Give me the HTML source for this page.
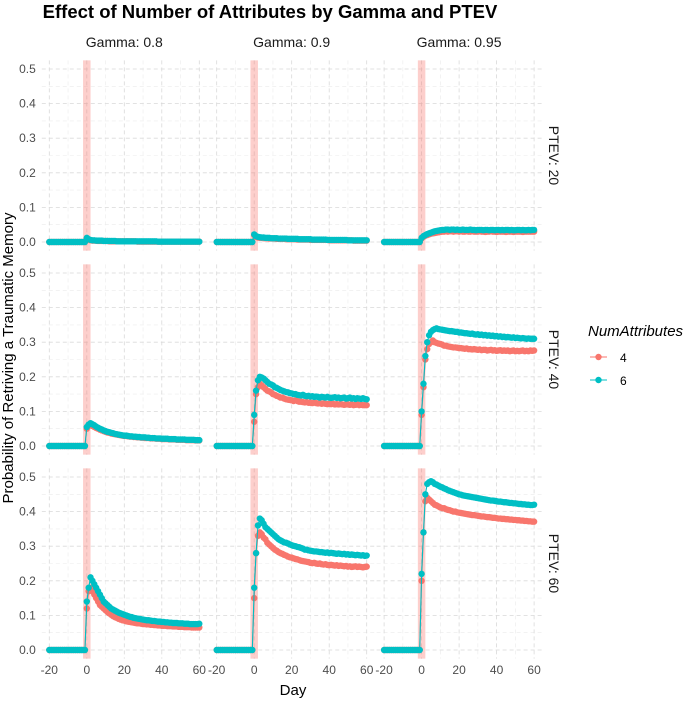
<!DOCTYPE html>
<html><head><meta charset="utf-8"><style>
body{margin:0;background:#fff;}
svg text{font-family:"Liberation Sans",sans-serif;}
</style></head><body>
<svg id="chart" width="700" height="700" viewBox="0 0 700 700" xmlns="http://www.w3.org/2000/svg">
<text x="270" y="18" font-size="18.5" font-weight="bold" text-anchor="middle" fill="#000">Effect of Number of Attributes by Gamma and PTEV</text>
<text x="293" y="695" font-size="15" text-anchor="middle" fill="#000">Day</text>
<text transform="translate(13,358) rotate(-90)" font-size="15" text-anchor="middle" fill="#000">Probability of Retriving a Traumatic Memory</text>
<g>
<text x="588" y="336" font-size="15" font-style="italic" fill="#000">NumAttributes</text>
<g><line x1="590" y1="357" x2="607" y2="357" stroke="#F8766D" stroke-width="1"/><circle cx="598.5" cy="357" r="3.2" fill="#F8766D"/><text x="620" y="362" font-size="12" fill="#000">4</text></g>
<g><line x1="590" y1="380" x2="607" y2="380" stroke="#00BFC4" stroke-width="1"/><circle cx="598.5" cy="380" r="3.2" fill="#00BFC4"/><text x="620" y="385" font-size="12" fill="#000">6</text></g>
</g>
<g id="panels"></g>
</svg>
<script>
const gammas=["0.8","0.9","0.95"];
const ptevs=["20","40","60"];
const xTicks=[-20,0,20,40,60];
const yTicks=[0,0.1,0.2,0.3,0.4,0.5];
const preDays=[-20,-19,-18,-17,-16,-15,-14,-13,-12,-11,-10,-9,-8,-7,-6,-5,-4,-3,-2,-1];
const preValues=[0,0,0,0,0,0,0,0,0,0,0,0,0,0,0,0,0,0,0,0];
const postDays=[0,1,2,3,4,5,6,7,8,9,10,11,12,13,14,15,16,17,18,19,20,21,22,23,24,25,26,27,28,29,30,31,32,33,34,35,36,37,38,39,40,41,42,43,44,45,46,47,48,49,50,51,52,53,54,55,56,57,58,59,60];
const red_20_08=[.01,.006,.005,.004,.004,.004,.003,.003,.003,.003,.003,.003,.002,.002,.002,.002,.002,.002,.002,.002,.002,.002,.002,.002,.002,.002,.002,.001,.001,.001,.001,.001,.001,.001,.001,.001,.001,.001,.001,.001,.001,.001,.001,.001,.001,.001,.001,.001,.001,.001,.001,.001,.001,.001,.001,.001,.001,.001,.001,.001,.001];
const cyan_20_08=[.012,.008,.006,.005,.005,.004,.004,.004,.004,.003,.003,.003,.003,.003,.003,.003,.002,.002,.002,.002,.002,.002,.002,.002,.002,.002,.002,.002,.002,.002,.002,.002,.002,.002,.002,.002,.002,.002,.001,.001,.001,.001,.001,.001,.001,.001,.001,.001,.001,.001,.001,.001,.001,.001,.001,.001,.001,.001,.001,.001,.001];
const red_20_09=[.02,.015,.013,.012,.012,.011,.011,.011,.010,.010,.010,.010,.009,.009,.009,.009,.009,.008,.008,.008,.008,.008,.008,.007,.007,.007,.007,.007,.007,.007,.006,.006,.006,.006,.006,.006,.006,.006,.006,.006,.005,.005,.005,.005,.005,.005,.005,.005,.005,.005,.005,.005,.005,.004,.004,.004,.004,.004,.004,.004,.004];
const cyan_20_09=[.022,.017,.015,.014,.013,.013,.012,.012,.012,.011,.011,.011,.011,.010,.010,.010,.010,.010,.009,.009,.009,.009,.009,.009,.008,.008,.008,.008,.008,.008,.008,.007,.007,.007,.007,.007,.007,.007,.007,.006,.006,.006,.006,.006,.006,.006,.006,.006,.006,.006,.005,.005,.005,.005,.005,.005,.005,.005,.005,.005,.005];
const red_20_095=[.01,.015,.018,.02,.022,.024,.025,.026,.027,.028,.029,.030,.030,.031,.030,.031,.031,.030,.031,.031,.030,.031,.030,.030,.031,.030,.030,.031,.030,.030,.030,.031,.030,.030,.029,.030,.030,.031,.030,.030,.029,.030,.030,.030,.030,.029,.030,.030,.030,.029,.030,.030,.030,.030,.029,.030,.030,.030,.030,.030,.030];
const cyan_20_095=[.012,.017,.02,.023,.025,.027,.029,.031,.032,.033,.034,.035,.035,.036,.036,.035,.036,.036,.035,.036,.035,.035,.036,.035,.035,.035,.036,.035,.035,.034,.035,.035,.035,.034,.035,.035,.034,.035,.035,.034,.035,.035,.034,.035,.034,.035,.035,.034,.035,.034,.034,.035,.035,.034,.035,.034,.034,.035,.034,.035,.035];
const red_40_08=[.05,.058,.06,.058,.055,.052,.05,.047,.045,.043,.041,.039,.038,.036,.035,.034,.033,.032,.031,.030,.029,.029,.028,.027,.027,.026,.026,.025,.025,.024,.024,.023,.023,.023,.022,.022,.022,.021,.021,.021,.020,.020,.020,.020,.019,.019,.019,.019,.018,.018,.018,.018,.018,.017,.017,.017,.017,.017,.016,.016,.016];
const cyan_40_08=[.055,.062,.066,.063,.06,.056,.053,.05,.048,.045,.043,.041,.04,.038,.037,.035,.034,.033,.032,.031,.030,.030,.029,.028,.028,.027,.027,.026,.026,.025,.025,.025,.024,.024,.023,.023,.023,.022,.022,.022,.021,.021,.021,.021,.020,.020,.020,.020,.019,.019,.019,.019,.019,.018,.018,.018,.018,.018,.017,.017,.017];
const red_40_09=[.07,.15,.17,.18,.175,.17,.165,.16,.158,.155,.15,.148,.145,.143,.14,.14,.137,.135,.134,.133,.132,.13,.132,.13,.128,.128,.127,.126,.127,.125,.125,.124,.126,.124,.123,.124,.122,.123,.122,.121,.122,.121,.122,.12,.121,.12,.121,.12,.119,.12,.12,.119,.12,.118,.119,.12,.118,.119,.118,.118,.118];
const cyan_40_09=[.09,.16,.19,.2,.198,.195,.19,.185,.18,.178,.175,.17,.168,.165,.162,.16,.158,.156,.155,.153,.152,.15,.15,.148,.147,.146,.148,.145,.144,.145,.143,.144,.142,.143,.142,.14,.142,.141,.14,.142,.14,.139,.14,.141,.139,.14,.138,.139,.14,.137,.138,.14,.137,.138,.136,.138,.137,.136,.138,.136,.135];
const red_40_095=[.09,.17,.25,.28,.295,.3,.305,.3,.298,.296,.295,.293,.29,.29,.288,.287,.286,.285,.285,.284,.283,.283,.282,.281,.282,.28,.28,.279,.28,.279,.278,.279,.277,.278,.278,.276,.277,.278,.276,.277,.275,.276,.277,.275,.276,.275,.276,.274,.275,.276,.274,.275,.274,.275,.276,.274,.275,.274,.276,.275,.276];
const cyan_40_095=[.1,.18,.26,.3,.32,.33,.335,.338,.34,.338,.337,.336,.335,.334,.333,.332,.332,.331,.33,.33,.328,.328,.327,.326,.326,.325,.324,.325,.323,.322,.323,.321,.322,.32,.321,.319,.32,.318,.319,.317,.318,.316,.317,.315,.316,.314,.315,.314,.313,.314,.312,.313,.312,.311,.312,.311,.31,.311,.31,.31,.31];
const red_60_08=[.12,.17,.18,.17,.16,.15,.14,.13,.125,.12,.115,.11,.106,.102,.098,.095,.093,.09,.088,.086,.085,.083,.082,.081,.08,.079,.078,.077,.077,.076,.075,.075,.074,.074,.073,.073,.072,.072,.071,.071,.07,.07,.07,.069,.069,.069,.068,.068,.068,.067,.067,.067,.066,.066,.066,.066,.065,.065,.065,.065,.065];
const cyan_60_08=[.14,.18,.21,.2,.19,.18,.17,.16,.15,.14,.135,.13,.125,.12,.117,.114,.111,.108,.106,.104,.102,.1,.098,.096,.095,.093,.092,.091,.09,.089,.088,.087,.086,.086,.085,.084,.084,.083,.082,.082,.081,.081,.08,.08,.079,.079,.078,.078,.078,.077,.077,.077,.076,.076,.076,.075,.075,.075,.075,.075,.076];
const red_60_09=[.15,.28,.33,.34,.335,.325,.32,.31,.305,.3,.295,.29,.287,.283,.28,.278,.275,.273,.27,.268,.267,.265,.263,.262,.26,.258,.257,.256,.255,.254,.252,.251,.252,.25,.249,.25,.248,.247,.248,.246,.245,.246,.245,.244,.245,.243,.244,.243,.242,.243,.241,.242,.24,.241,.242,.24,.241,.24,.239,.24,.241];
const cyan_60_09=[.18,.28,.36,.38,.375,.365,.355,.35,.345,.34,.335,.33,.325,.32,.317,.314,.311,.31,.308,.305,.303,.301,.3,.298,.297,.295,.293,.29,.29,.288,.287,.286,.285,.285,.284,.283,.283,.282,.281,.282,.28,.281,.28,.279,.278,.279,.278,.277,.278,.276,.277,.275,.276,.275,.274,.275,.274,.273,.274,.272,.273];
const red_60_095=[.2,.34,.43,.44,.435,.43,.425,.42,.418,.415,.412,.41,.41,.407,.405,.404,.402,.4,.4,.398,.397,.396,.395,.394,.393,.392,.391,.39,.39,.389,.388,.387,.386,.386,.385,.384,.384,.383,.382,.382,.381,.38,.38,.379,.379,.378,.378,.377,.377,.376,.376,.375,.375,.374,.374,.373,.373,.372,.372,.371,.371];
const cyan_60_095=[.22,.34,.45,.48,.485,.488,.485,.48,.478,.475,.472,.47,.467,.465,.462,.46,.458,.456,.454,.452,.45,.449,.447,.446,.445,.444,.443,.442,.441,.44,.439,.438,.437,.436,.435,.434,.433,.432,.432,.431,.43,.429,.429,.428,.427,.427,.426,.425,.425,.424,.424,.423,.422,.422,.421,.421,.42,.42,.419,.419,.42];
const redSeries=[[red_20_08,red_20_09,red_20_095],[red_40_08,red_40_09,red_40_095],[red_60_08,red_60_09,red_60_095]];
const cyanSeries=[[cyan_20_08,cyan_20_09,cyan_20_095],[cyan_40_08,cyan_40_09,cyan_40_095],[cyan_60_08,cyan_60_09,cyan_60_095]];

const NS="http://www.w3.org/2000/svg";
const root=document.getElementById('panels');
const colLeft=[41.8,209.2,376.6], panelW=165;
const rowZero=[242,446,650], yScale=346;
const xMin=-24,xMax=64;
function mk(tag,attrs,parent){const e=document.createElementNS(NS,tag);for(const k in attrs)e.setAttribute(k,attrs[k]);parent.appendChild(e);return e;}
for(let r=0;r<3;r++){for(let c=0;c<3;c++){
  const g=mk('g',{},root);
  
  
  const X=d=>colLeft[c]+(d-xMin)/(xMax-xMin)*panelW;
  const Y=v=>rowZero[r]-v*yScale;
  const top=Y(0.525),bot=Y(-0.025);
  for(let i=0;i<yTicks.length-1;i++){const v=(yTicks[i]+yTicks[i+1])/2;mk('line',{x1:X(xMin),x2:X(xMax),y1:Y(v),y2:Y(v),stroke:'#ebebeb','stroke-width':0.6,'stroke-dasharray':'4,3'},g);}
  for(let i=0;i<xTicks.length-1;i++){const d=(xTicks[i]+xTicks[i+1])/2;mk('line',{x1:X(d),x2:X(d),y1:top,y2:bot,stroke:'#ebebeb','stroke-width':0.6,'stroke-dasharray':'4,3'},g);}
  yTicks.forEach(v=>mk('line',{x1:X(xMin),x2:X(xMax),y1:Y(v),y2:Y(v),stroke:'#d9d9d9','stroke-width':0.8,'stroke-dasharray':'4,3'},g));
  xTicks.forEach(d=>mk('line',{x1:X(d),x2:X(d),y1:top,y2:bot,stroke:'#d9d9d9','stroke-width':0.8,'stroke-dasharray':'4,3'},g));
  const band=mk('rect',{x:X(-2),y:top,width:X(2)-X(-2),height:bot-top,fill:'#F8766D','fill-opacity':0.35},g);
  
  
  [[redSeries[r][c],'#F8766D','series-4'],[cyanSeries[r][c],'#00BFC4','series-6']].forEach(([vals,col,nm])=>{
    const sg=mk('g',{},g);
    
    
    const days=preDays.concat(postDays), vs=preValues.concat(vals);
    mk('polyline',{points:days.map((d,i)=>X(d)+','+Y(vs[i])).join(' '),fill:'none',stroke:col,'stroke-width':1.1},sg);
    days.forEach((d,i)=>mk('circle',{cx:X(d),cy:Y(vs[i]),r:3.2,fill:col},sg));
  });
  if(c===0){yTicks.forEach(v=>{const t=mk('text',{x:X(xMin)-6,y:Y(v)+4,'font-size':12,'text-anchor':'end',fill:'#4d4d4d'},g);t.textContent=v.toFixed(1);});}
  if(r===2){xTicks.forEach(d=>{const t=mk('text',{x:X(d),y:674,'font-size':12,'text-anchor':'middle',fill:'#4d4d4d'},g);t.textContent=d;});}
  if(r===0){const t=mk('text',{x:colLeft[c]+panelW/2,y:47,'font-size':14,'text-anchor':'middle',fill:'#1a1a1a'},g);t.textContent='Gamma: '+gammas[c];}
  if(c===2){const cy=(top+bot)/2;const t=mk('text',{transform:'translate(549,'+cy+') rotate(90)','font-size':14,'text-anchor':'middle',fill:'#1a1a1a'},g);t.textContent='PTEV: '+ptevs[r];}
}}
</script>
</body></html>
